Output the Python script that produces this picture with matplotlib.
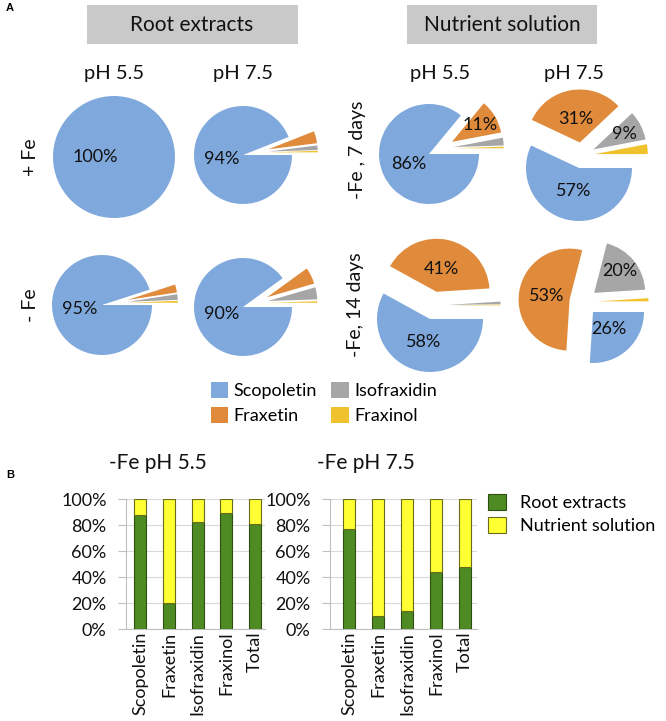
import numpy as np
import matplotlib.pyplot as plt
from matplotlib.patches import Rectangle

plt.rcParams['font.family'] = ['Lato', 'DejaVu Sans']

W, H = 666, 721
INK = '#111111'

compounds = ['Scopoletin', 'Fraxetin', 'Isofraxidin', 'Fraxinol']
pie_colors = ['#7FA8DC', '#E08A3B', '#A6A6A6', '#EFC22E']

# panel A: share (%) of each coumarin
root_fe_55 = [100, 0, 0, 0]
root_fe_75 = [94, 4, 1.5, 0.5]
root_nofe_55 = [95, 2.6, 1.8, 0.6]
root_nofe_75 = [90, 5.5, 4, 0.5]
sol_7d_55 = [86, 11, 2.5, 0.5]
sol_7d_75 = [57, 31, 9, 3]
sol_14d_55 = [58, 41, 0.8, 0.2]
sol_14d_75 = [26, 53, 20, 1]

# panel B: % found in root extracts (rest in nutrient solution)
bar_cats = ['Scopoletin', 'Fraxetin', 'Isofraxidin', 'Fraxinol', 'Total']
root_share_55 = [88, 20, 82, 89, 81]
root_share_75 = [77, 10, 14, 44, 48]

fig = plt.figure(figsize=(W / 100, H / 100), dpi=100)
ax = fig.add_axes([0, 0, 1, 1])


def draw_pie(vals, tx, ty, r, gap):
    # tx, ty: pixel position of the scopoletin wedge tip
    th = -np.pi * vals[0] / sum(vals)
    cx = tx - gap * np.cos(th)
    cy = (H - ty) - gap * np.sin(th)
    wedges, _, autos = ax.pie(
        vals, colors=pie_colors, startangle=0, counterclock=False,
        radius=r, center=(cx, cy), explode=[gap] * len(vals),
        autopct=lambda p: '%d%%' % round(p) if p >= 8 else '',
        textprops=dict(fontsize=13, color=INK),
        wedgeprops=dict(linewidth=0), frame=False)
    for w, t, v in zip(wedges, autos, vals):
        k = 0.3 if v == 100 else (0.45 if v >= 25 else 0.66)
        a = np.deg2rad((w.theta1 + w.theta2) / 2)
        t.set_position((w.center[0] + k * r * np.cos(a),
                        w.center[1] + k * r * np.sin(a)))
    return wedges


draw_pie(root_fe_55, 114, 157, 61, 0)
draw_pie(root_fe_75, 243, 155, 49, 13)
draw_pie(root_nofe_55, 102, 305, 50, 13)
draw_pie(root_nofe_75, 243, 307, 49, 13)
draw_pie(sol_7d_55, 429, 154, 50, 13)
wedges = draw_pie(sol_7d_75, 579, 168, 53, 13)
draw_pie(sol_14d_55, 430, 319, 53, 14)
draw_pie(sol_14d_75, 593, 312, 51, 14)

ax.set_xlim(0, W)
ax.set_ylim(0, H)
ax.set_aspect('auto')
ax.axis('off')

# headers
ax.add_patch(Rectangle((87, H - 44), 211, 39, color='#C9C9C9', lw=0))
ax.add_patch(Rectangle((407, H - 44), 190, 39, color='#C9C9C9', lw=0))
ax.text(192, H - 25, 'Root extracts', fontsize=15, ha='center', va='center', color=INK)
ax.text(502, H - 25, 'Nutrient solution', fontsize=15, ha='center', va='center', color=INK)
for x, s in [(114, 'pH 5.5'), (243, 'pH 7.5'), (440, 'pH 5.5'), (574, 'pH 7.5')]:
    ax.text(x, H - 73, s, fontsize=14.5, ha='center', va='center', color=INK)
for x, y, s in [(30, 157, '+ Fe'), (30, 305, '- Fe'),
                (357, 150, '-Fe , 7 days'), (356, 305, '-Fe, 14 days')]:
    ax.text(x, H - y, s, fontsize=14, rotation=90, ha='center', va='center', color=INK)
ax.text(6, H - 8, 'A', fontsize=8, fontweight='bold', family='Liberation Sans', va='center')
ax.text(6, H - 475, 'B', fontsize=8, fontweight='bold', family='Liberation Sans', va='center')

fig.legend(wedges, compounds, ncol=2, loc='upper left',
           bbox_to_anchor=(211 / W, 1 - 382 / H), frameon=False, fontsize=13,
           handlelength=0.95, handleheight=0.95, handletextpad=0.3,
           labelspacing=0.45, columnspacing=0.8, borderpad=0, borderaxespad=0)


def draw_bars(left, right, share, xlim, title, title_x):
    bx = fig.add_axes([left / W, (H - 629) / H, (right - left) / W, 130 / H])
    x = np.arange(len(bar_cats))
    s = np.array(share) / 100
    b1 = bx.bar(x, s, width=0.42, color='#4E8B22', edgecolor='#2f4f12',
                linewidth=0.8, zorder=3, label='Root extracts')
    b2 = bx.bar(x, 1 - s, bottom=s, width=0.42, color='#FFFF33',
                edgecolor='#6b6b1c', linewidth=0.8, zorder=3, label='Nutrient solution')
    bx.set_xlim(*xlim)
    bx.set_ylim(0, 1)
    bx.set_yticks(np.linspace(0, 1, 6))
    bx.set_yticklabels(['%d%%' % v for v in range(0, 101, 20)], fontsize=13, color=INK)
    bx.set_xticks(x)
    bx.set_xticklabels(bar_cats, rotation=90, fontsize=13, color=INK)
    bx.yaxis.grid(True, color='#D9D9D9', lw=0.8, zorder=0)
    bx.tick_params(axis='y', length=6, color='#BFBFBF', pad=8)
    bx.tick_params(axis='x', length=0, pad=2)
    for sp in ['top', 'right']:
        bx.spines[sp].set_visible(False)
    for sp in ['left', 'bottom']:
        bx.spines[sp].set_color('#BFBFBF')
        bx.spines[sp].set_linewidth(0.8)
    bx.patch.set_alpha(0)
    fig.text(title_x / W, 1 - 463 / H, title, fontsize=15, ha='center', va='center', color=INK)
    return b1, b2


draw_bars(126, 265, root_share_55, (-0.49, 4.34), '-Fe pH 5.5', 158)
b1, b2 = draw_bars(330, 477, root_share_75, (-0.66, 4.41), '-Fe pH 7.5', 366)

fig.legend([b1, b2], ['Root extracts', 'Nutrient solution'], loc='upper left',
           bbox_to_anchor=(488 / W, 1 - 494 / H), frameon=False, fontsize=13,
           handlelength=1.0, handleheight=1.0, handletextpad=0.75,
           labelspacing=0.3, borderpad=0, borderaxespad=0)

fig.savefig('out.png', dpi=100)
